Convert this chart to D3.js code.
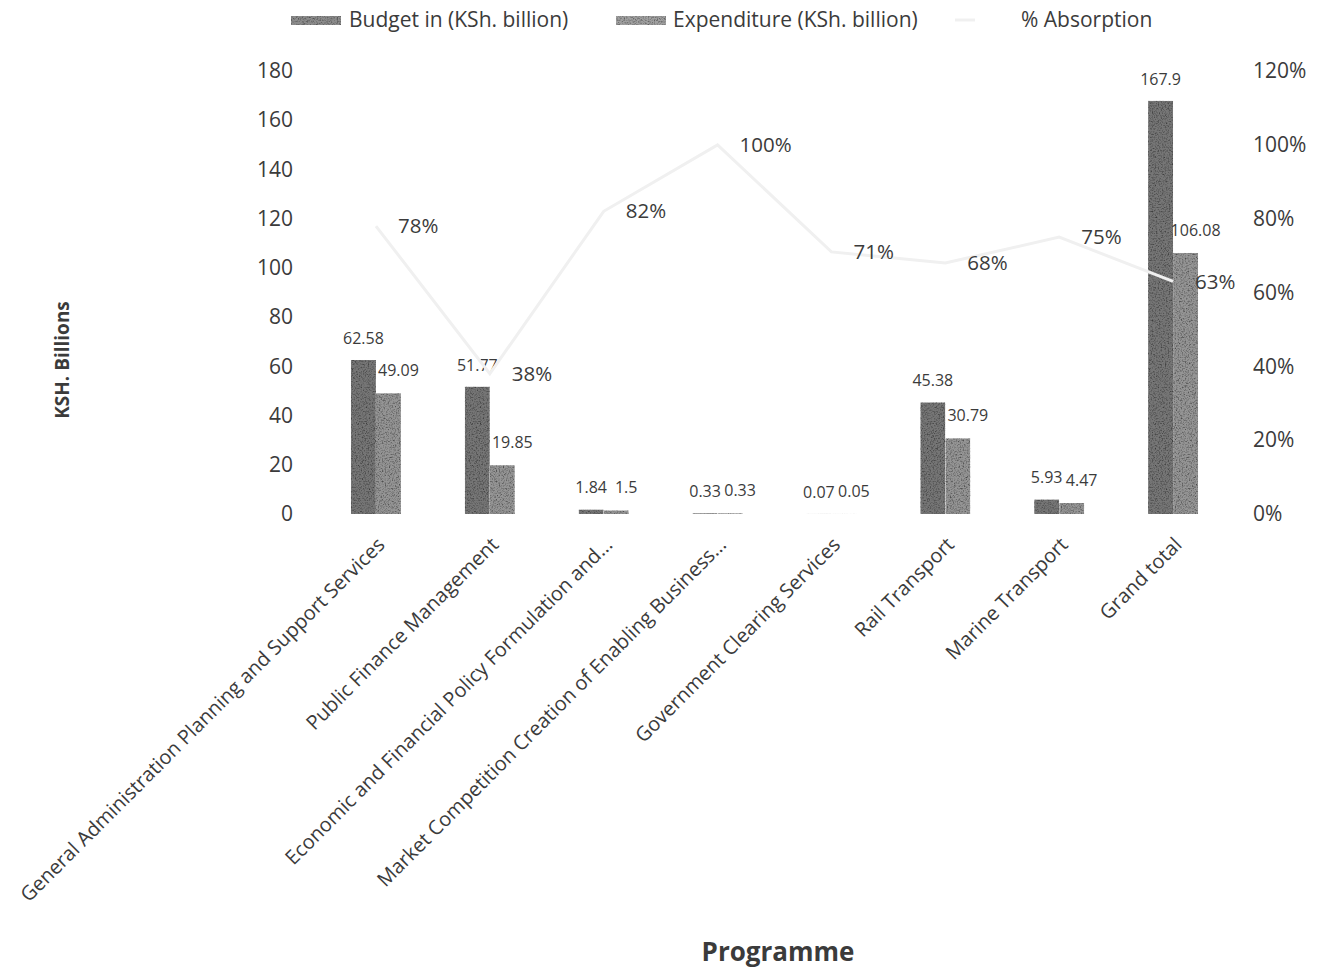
<!DOCTYPE html>
<html>
<head>
<meta charset="utf-8">
<script src="https://cdn.jsdelivr.net/npm/d3@7"></script>
<style>
  html, body { margin: 0; padding: 0; background: #fff; }
  svg { display: block; font-family: "Open Sans", "Liberation Sans", sans-serif; }
</style>
</head>
<body>
<svg id="chart" width="1323" height="969"></svg>
<script>
// Programme budget vs expenditure (KSh. billion) with absorption rate
const programmes = [
  "General Administration Planning and Support Services",
  "Public Finance Management",
  "Economic and Financial Policy Formulation and...",
  "Market Competition Creation of Enabling Business...",
  "Government Clearing Services",
  "Rail Transport",
  "Marine Transport",
  "Grand total"
];
const budget      = [62.58, 51.77, 1.84, 0.33, 0.07, 45.38, 5.93, 167.9];
const expenditure = [49.09, 19.85, 1.5, 0.33, 0.05, 30.79, 4.47, 106.08];
const absorption  = [0.78, 0.38, 0.82, 1.00, 0.71, 0.68, 0.75, 0.63];
const leftTicks   = [0, 20, 40, 60, 80, 100, 120, 140, 160, 180];
const rightTicks  = [0, 0.2, 0.4, 0.6, 0.8, 1.0, 1.2];
const seriesNames = ["Budget in (KSh. billion)", "Expenditure (KSh. billion)", "% Absorption"];

const svg = d3.select("#chart");
const textColor = "#3b3b3b";
const budgetColor = "#767676";
const expColor = "#959595";
const lineColor = "#f0f0f0";

// grainy fill for the bars
const defs = svg.append("defs");
const grain = defs.append("filter").attr("id", "grain")
  .attr("color-interpolation-filters", "sRGB")
  .attr("x", 0).attr("y", 0).attr("width", 1).attr("height", 1);
grain.append("feTurbulence").attr("type", "fractalNoise")
  .attr("baseFrequency", 0.7).attr("numOctaves", 2).attr("seed", 7).attr("result", "noise");
grain.append("feColorMatrix").attr("in", "noise").attr("type", "matrix")
  .attr("values", "0.33 0.33 0.33 0 0  0.33 0.33 0.33 0 0  0.33 0.33 0.33 0 0  0 0 0 0 1")
  .attr("result", "gray");
const ct = grain.append("feComponentTransfer").attr("in", "gray").attr("result", "soft");
["feFuncR", "feFuncG", "feFuncB"].forEach(f =>
  ct.append(f).attr("type", "linear").attr("slope", 2.0).attr("intercept", -0.05));
grain.append("feBlend").attr("in", "SourceGraphic").attr("in2", "soft").attr("mode", "multiply").attr("result", "blend");
grain.append("feComposite").attr("in", "blend").attr("in2", "SourceGraphic").attr("operator", "in");

// scales
const x0 = d3.scaleBand().domain(programmes).range([319, 1230]).padding(0);
const groupWidth = 50;
const x1 = d3.scaleBand().domain(["budget", "expenditure"]).range([0, groupWidth]);
const yL = d3.scaleLinear().domain([0, 180]).range([514, 71]);
const yR = d3.scaleLinear().domain([0, 1.2]).range([514, 71]);
const cx = p => x0(p) + x0.bandwidth() / 2;
const gx = p => x0(p) + (x0.bandwidth() - groupWidth) / 2;

// left axis
const axL = svg.append("g").attr("transform", "translate(293,0)")
  .call(d3.axisLeft(yL).tickValues(leftTicks).tickSize(0).tickPadding(0));
axL.select(".domain").remove();
axL.selectAll("text").attr("font-size", 21).attr("fill", textColor)
  .attr("font-family", "'Open Sans', sans-serif");

// right axis
const axR = svg.append("g").attr("transform", "translate(1253,0)")
  .call(d3.axisRight(yR).tickValues(rightTicks).tickSize(0).tickPadding(0)
    .tickFormat(d3.format(".0%")));
axR.select(".domain").remove();
axR.selectAll("text").attr("font-size", 21).attr("fill", textColor)
  .attr("font-family", "'Open Sans', sans-serif");

// bars
const rows = programmes.map((p, i) => ({ p, budget: budget[i], expenditure: expenditure[i], pct: absorption[i] }));
const groups = svg.append("g").selectAll("g").data(rows).join("g")
  .attr("transform", d => `translate(${gx(d.p)},0)`);

groups.append("rect")
  .attr("x", x1("budget")).attr("width", x1.bandwidth())
  .attr("y", d => yL(d.budget)).attr("height", d => yL(0) - yL(d.budget))
  .attr("fill", budgetColor).attr("filter", "url(#grain)");
groups.append("rect")
  .attr("x", x1("expenditure")).attr("width", x1.bandwidth())
  .attr("y", d => yL(d.expenditure)).attr("height", d => yL(0) - yL(d.expenditure))
  .attr("fill", expColor).attr("filter", "url(#grain)");

// bar value labels
groups.append("text")
  .attr("x", x1("budget") + x1.bandwidth() / 2)
  .attr("y", d => yL(d.budget) - 16)
  .attr("text-anchor", "middle").attr("font-size", 16).attr("fill", textColor)
  .text(d => d.budget);
groups.append("text")
  .attr("x", x1("expenditure") + x1.bandwidth() / 2 + 10)
  .attr("y", d => yL(d.expenditure) - 17)
  .attr("text-anchor", "middle").attr("font-size", 16).attr("fill", textColor)
  .text(d => d.expenditure);

// absorption line
const line = d3.line().x(d => cx(d.p)).y(d => yR(d.pct));
svg.append("path").datum(rows)
  .attr("d", line).attr("fill", "none")
  .attr("stroke", lineColor).attr("stroke-width", 3);

svg.append("g").selectAll("text").data(rows).join("text")
  .attr("x", d => cx(d.p) + 22)
  .attr("y", d => yR(d.pct))
  .attr("dy", "0.35em")
  .attr("font-size", 20.5).attr("fill", textColor)
  .text(d => d3.format(".0%")(d.pct));

// category labels
svg.append("g").selectAll("text").data(programmes).join("text")
  .attr("transform", p => `translate(${cx(p) + 5},541) rotate(-45)`)
  .attr("dy", "0.35em")
  .attr("text-anchor", "end")
  .attr("font-size", 20).attr("fill", textColor)
  .text(p => p);

// axis titles
svg.append("text")
  .attr("transform", "translate(62,360) rotate(-90)")
  .attr("text-anchor", "middle").attr("dy", "0.35em")
  .attr("font-size", 19).attr("font-weight", "bold").attr("fill", textColor)
  .text("KSH. Billions");
svg.append("text")
  .attr("x", 778).attr("y", 961)
  .attr("text-anchor", "middle")
  .attr("font-size", 26).attr("font-weight", "bold").attr("fill", textColor)
  .text("Programme");

// legend
const legend = svg.append("g");
const legendX = [291, 616, 955];
legend.append("rect").attr("x", legendX[0]).attr("y", 16).attr("width", 50).attr("height", 9)
  .attr("fill", "#8c8c8c").attr("filter", "url(#grain)");
legend.append("rect").attr("x", legendX[1]).attr("y", 16).attr("width", 50).attr("height", 9)
  .attr("fill", "#a0a0a0").attr("filter", "url(#grain)");
legend.append("line").attr("x1", legendX[2]).attr("x2", legendX[2] + 20)
  .attr("y1", 20).attr("y2", 20).attr("stroke", lineColor).attr("stroke-width", 3);
const legendTextX = [349, 673, 1021];
legend.selectAll("text").data(seriesNames).join("text")
  .attr("x", (d, i) => legendTextX[i]).attr("y", 20).attr("dy", "0.35em")
  .attr("font-size", 21).attr("fill", textColor)
  .text(d => d);
</script>
</body>
</html>
